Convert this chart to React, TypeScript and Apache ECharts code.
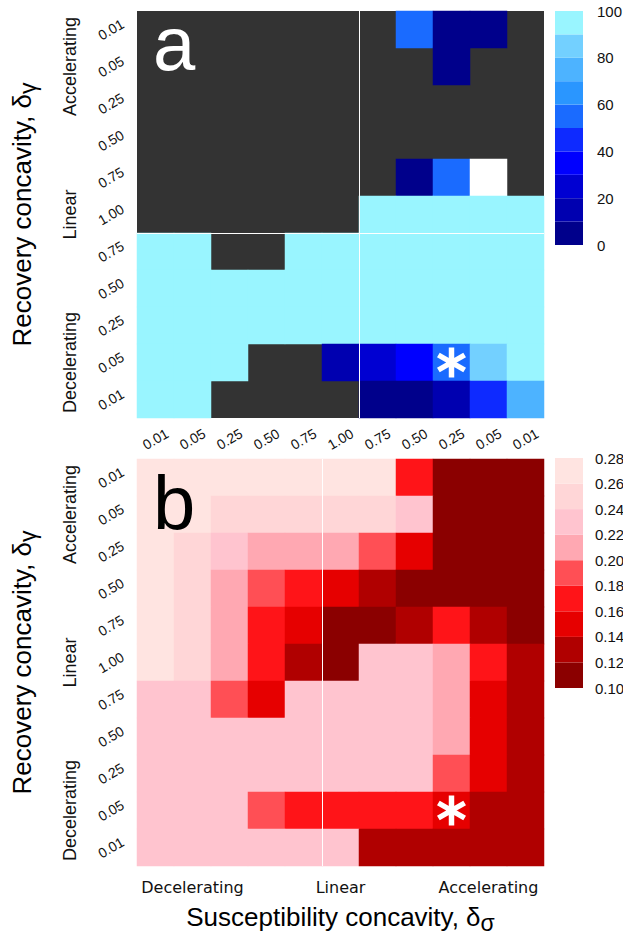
import { useEffect, useRef } from 'react';
import * as echarts from 'echarts';

// ---------- data ----------
const concavityLabels = ['0.01', '0.05', '0.25', '0.50', '0.75', '1.00', '0.75', '0.50', '0.25', '0.05', '0.01'];
const xGroupLabels = ['', 'Decelerating', '', '', '', 'Linear', '', '', '', 'Accelerating', ''];
const yGroupLabels = ['', 'Accelerating', '', '', '', 'Linear', '', '', '', 'Decelerating', ''];

const N = null; // no data (dark grey)
const W = 105; // white cell: above the colour scale

// panel a (percent), rows top -> bottom, columns left -> right
const panelA: (number | null)[][] = [
  [N, N, N, N, N, N, N, 55, 5, 5, N],
  [N, N, N, N, N, N, N, N, 5, N, N],
  [N, N, N, N, N, N, N, N, N, N, N],
  [N, N, N, N, N, N, N, N, N, N, N],
  [N, N, N, N, N, N, N, 5, 55, W, N],
  [N, N, N, N, N, N, 95, 95, 95, 95, 95],
  [95, 95, N, N, 95, 95, 95, 95, 95, 95, 95],
  [95, 95, 95, 95, 95, 95, 95, 95, 95, 95, 95],
  [95, 95, 95, 95, 95, 95, 95, 95, 95, 95, 95],
  [95, 95, 95, N, N, 15, 25, 35, 55, 85, 95],
  [95, 95, N, N, N, N, 5, 5, 15, 45, 75],
];

// panel b
const panelB: number[][] = [
  [0.27, 0.27, 0.27, 0.27, 0.27, 0.27, 0.27, 0.17, 0.11, 0.11, 0.11],
  [0.27, 0.27, 0.25, 0.25, 0.25, 0.25, 0.25, 0.23, 0.11, 0.11, 0.11],
  [0.27, 0.25, 0.23, 0.21, 0.21, 0.21, 0.19, 0.15, 0.11, 0.11, 0.11],
  [0.27, 0.25, 0.21, 0.19, 0.17, 0.15, 0.13, 0.11, 0.11, 0.11, 0.11],
  [0.27, 0.25, 0.21, 0.17, 0.15, 0.11, 0.11, 0.13, 0.17, 0.13, 0.11],
  [0.27, 0.25, 0.21, 0.17, 0.13, 0.11, 0.23, 0.23, 0.21, 0.17, 0.13],
  [0.23, 0.23, 0.19, 0.15, 0.23, 0.23, 0.23, 0.23, 0.21, 0.15, 0.13],
  [0.23, 0.23, 0.23, 0.23, 0.23, 0.23, 0.23, 0.23, 0.21, 0.15, 0.13],
  [0.23, 0.23, 0.23, 0.23, 0.23, 0.23, 0.23, 0.23, 0.19, 0.15, 0.13],
  [0.23, 0.23, 0.23, 0.19, 0.17, 0.17, 0.17, 0.17, 0.15, 0.13, 0.13],
  [0.23, 0.23, 0.23, 0.23, 0.23, 0.23, 0.13, 0.13, 0.13, 0.13, 0.13],
];

const blueBreaks = [0, 10, 20, 30, 40, 50, 60, 70, 80, 90, 100];
const blueColors = ['#00008B', '#0000B0', '#0000D2', '#0000FF', '#0E2AFF', '#1A6BFF', '#2A96FF', '#4DB3FF', '#73D0FF', '#99F5FF'];
const redBreaks = [0.1, 0.12, 0.14, 0.16, 0.18, 0.2, 0.22, 0.24, 0.26, 0.28];
const redColors = ['#8B0000', '#B00000', '#E60000', '#FF1418', '#FF4F55', '#FFA8B2', '#FFC4CF', '#FFD6D7', '#FFE4E1'];

const starCell = [8, 9]; // column, row
const sepA = { cols: [6], rows: [6] };
const sepB = { cols: [5], rows: [] as number[] };

// ---------- helpers ----------
const FONT = 'Liberation Sans';
const toCells = (m: (number | null)[][]) =>
  m.flatMap((row, r) => row.map((v, c) => [c, r, v == null ? '-' : v]));

const makePieces = (breaks: number[], colors: string[]) =>
  colors.map((color, i) =>
    i === colors.length - 1
      ? { gte: breaks[i], lte: breaks[i + 1], color }
      : { gte: breaks[i], lt: breaks[i + 1], color }
  );

const a = 2.7, L = 15;
const starPath =
  'path://' +
  `M${-a},${-L}L${a},${-L}L${a},${L}L${-a},${L}Z` +
  'M-14.34,-5.16L-11.64,-9.84L14.34,5.16L11.64,9.84Z' +
  'M11.64,-9.84L14.34,-5.16L-11.64,9.84L-14.34,5.16Z';

const numLabel = (margin: number) => ({
  interval: 0,
  rotate: 30,
  align: 'center',
  verticalAlign: 'middle',
  margin,
  fontSize: 14,
  fontFamily: FONT,
  color: '#111',
});

const sepLine = (idx: number[]) => ({
  show: idx.length > 0,
  interval: (i: number) => i === 0 || idx.includes(i),
  showMinLine: false,
  showMaxLine: false,
  lineStyle: { color: '#ffffff', width: 1 },
});

const richName = {
  m: { fontSize: 26, fontFamily: FONT, color: '#000', verticalAlign: 'bottom', padding: [0, 0, 4, 0] },
  s: { fontSize: 23, fontFamily: FONT, color: '#000', verticalAlign: 'bottom' },
};

export default function App() {
  const ref = useRef<HTMLDivElement>(null);
  useEffect(() => {
    document.body.style.margin = '0';
    const chart = echarts.init(ref.current!, null, { renderer: 'svg' });
    const heatA = { left: 137, top: 11, width: 407, height: 407 };
    const heatB = { left: 137, top: 459, width: 407, height: 407 };
    const g = (o: any) => ({ ...o, outerBoundsMode: 'none', containLabel: false });

    const hiddenCat = (gridIndex: number, data: string[]) => ({
      type: 'category', gridIndex, data, show: false,
    });

    const option: any = {
      animation: false,
      textStyle: { fontFamily: FONT },
      grid: [
        g({ ...heatA, show: true, backgroundColor: '#333333', borderWidth: 0 }),
        g({ ...heatB }),
        g({ ...heatA }),
        g({ ...heatB }),
        g({ left: 555, top: 11, width: 28, height: 234 }),
        g({ left: 555, top: 458, width: 28, height: 230 }),
      ],
      xAxis: [
        {
          type: 'category', gridIndex: 0, data: concavityLabels, z: 3,
          axisLine: { show: false }, axisTick: { show: false },
          axisLabel: numLabel(21),
          splitLine: sepLine(sepA.cols),
        },
        {
          type: 'category', gridIndex: 1, data: concavityLabels, z: 3,
          axisLine: { show: false }, axisTick: { show: false },
          axisLabel: {
            interval: 0, margin: 13, fontSize: 16, fontFamily: 'DejaVu Sans', color: '#111',
            formatter: (_v: string, i: number) => xGroupLabels[i],
          },
          splitLine: sepLine(sepB.cols),
          name: '{m|Susceptibility concavity, δ}{s|σ}',
          nameLocation: 'middle',
          nameGap: 38,
          nameMoveOverlap: false,
          nameTextStyle: { rich: richName },
        },
        hiddenCat(2, concavityLabels),
        hiddenCat(3, concavityLabels),
        hiddenCat(4, ['c']),
        hiddenCat(5, ['c']),
      ],
      yAxis: [
        {
          type: 'category', gridIndex: 0, data: concavityLabels, inverse: true, z: 3,
          axisLine: { show: false }, axisTick: { show: false },
          axisLabel: numLabel(26),
          splitLine: sepLine(sepA.rows),
        },
        {
          type: 'category', gridIndex: 1, data: concavityLabels, inverse: true, z: 3,
          axisLine: { show: false }, axisTick: { show: false },
          axisLabel: numLabel(26),
          splitLine: sepLine(sepB.rows),
        },
        ...[2, 3].map((gi) => ({
          type: 'category', gridIndex: gi, data: concavityLabels, inverse: true,
          axisLine: { show: false }, axisTick: { show: false }, splitLine: { show: false },
          axisLabel: {
            interval: 0, rotate: 90, align: 'center', verticalAlign: 'middle', margin: 67,
            fontSize: 18, fontFamily: FONT, color: '#111',
            formatter: (_v: string, i: number) => yGroupLabels[i],
          },
          name: '{m|Recovery concavity, δ}{s|γ}',
          nameLocation: 'middle',
          nameRotate: 90,
          nameGap: 98,
          nameMoveOverlap: false,
          nameTextStyle: { rich: richName },
        })),
        {
          type: 'value', gridIndex: 4, position: 'right', min: 0, max: 100, interval: 20,
          axisLine: { show: false }, axisTick: { show: false }, splitLine: { show: false },
          axisLabel: { margin: 14, fontSize: 15, fontFamily: FONT, color: '#111' },
        },
        {
          type: 'value', gridIndex: 5, position: 'right', min: 0.1, max: 0.28, interval: 0.02,
          axisLine: { show: false }, axisTick: { show: false }, splitLine: { show: false },
          axisLabel: {
            margin: 12, fontSize: 15, fontFamily: FONT, color: '#111',
            formatter: (v: number) => v.toFixed(2),
          },
        },
      ],
      visualMap: [
        {
          type: 'piecewise', show: false, seriesIndex: 0, dimension: 2,
          pieces: makePieces(blueBreaks, blueColors),
          outOfRange: { color: '#ffffff' },
        },
        {
          type: 'piecewise', show: false, seriesIndex: 1, dimension: 2,
          pieces: makePieces(redBreaks, redColors),
        },
      ],
      series: [
        { type: 'heatmap', xAxisIndex: 0, yAxisIndex: 0, data: toCells(panelA), itemStyle: { borderWidth: 0 } },
        { type: 'heatmap', xAxisIndex: 1, yAxisIndex: 1, data: toCells(panelB), itemStyle: { borderWidth: 0 } },
        ...[0, 1].map((k) => ({
          type: 'scatter', xAxisIndex: k, yAxisIndex: k, z: 5, silent: true,
          symbol: starPath, symbolSize: [29, 30],
          itemStyle: { color: '#ffffff', opacity: 1 },
          data: [starCell],
        })),
        ...blueColors.map((color, i) => ({
          type: 'bar', xAxisIndex: 4, yAxisIndex: 4, stack: 'cbA', barWidth: '100%', silent: true,
          itemStyle: { color },
          data: [blueBreaks[i + 1] - blueBreaks[i]],
        })),
        {
          type: 'bar', xAxisIndex: 5, yAxisIndex: 5, stack: 'cbB', barWidth: '100%', silent: true,
          itemStyle: { color: 'rgba(0,0,0,0)' },
          data: [redBreaks[0]],
        },
        ...redColors.map((color, i) => ({
          type: 'bar', xAxisIndex: 5, yAxisIndex: 5, stack: 'cbB', barWidth: '100%', silent: true,
          itemStyle: { color },
          data: [redBreaks[i + 1] - redBreaks[i]],
        })),
      ],
      graphic: [
        {
          type: 'text', z: 100, x: 153, y: 43, silent: true,
          style: { text: 'a', fill: '#ffffff', font: `76px "${FONT}"`, align: 'left', verticalAlign: 'middle', textAlign: 'left', textVerticalAlign: 'middle' },
        },
        {
          type: 'text', z: 100, x: 153, y: 502, silent: true,
          style: { text: 'b', fill: '#000000', font: `76px "${FONT}"`, align: 'left', verticalAlign: 'middle', textAlign: 'left', textVerticalAlign: 'middle' },
        },
      ],
    };
    chart.setOption(option);
    return () => chart.dispose();
  }, []);
  return <div ref={ref} style={{ width: 623, height: 935 }} />;
}
